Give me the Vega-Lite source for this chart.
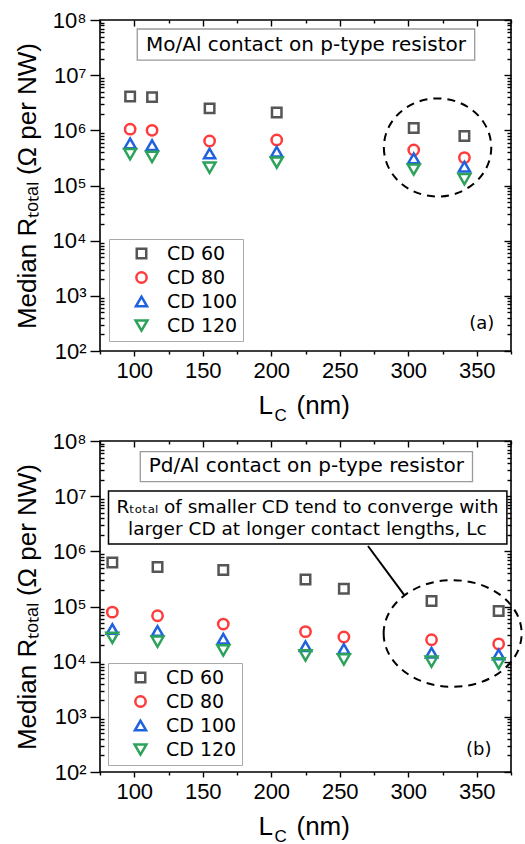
{
  "$schema": "https://vega.github.io/schema/vega-lite/v6.json",
  "padding": {"left": 13, "top": 8, "right": 0, "bottom": 0},
  "spacing": 5,
  "config": {
    "view": {"stroke": "#000000", "strokeWidth": 1.6},
    "axis": {"grid": false, "domain": false, "tickColor": "#000000", "tickWidth": 1.4, "labelFont": "Liberation Sans", "labelFontSize": 22, "labelColor": "#000000", "titleFont": "Liberation Sans", "titleFontSize": 26, "titleFontWeight": "normal", "titleColor": "#000000"},
    "text": {"font": "DejaVu Sans", "color": "#000000"}
  },
  "resolve": {"scale": {"color": "independent", "shape": "independent", "size": "independent"}, "legend": {"color": "independent", "shape": "independent", "size": "independent"}},
  "datasets": {
    "a": [
      {"L": 97, "R": 4100000, "CD": "CD 60"}, {"L": 113, "R": 4000000, "CD": "CD 60"}, {"L": 155, "R": 2500000, "CD": "CD 60"}, {"L": 204, "R": 2100000, "CD": "CD 60"}, {"L": 304, "R": 1100000, "CD": "CD 60"}, {"L": 341, "R": 790000, "CD": "CD 60"},
      {"L": 97, "R": 1050000, "CD": "CD 80"}, {"L": 113, "R": 1000000, "CD": "CD 80"}, {"L": 155, "R": 640000, "CD": "CD 80"}, {"L": 204, "R": 670000, "CD": "CD 80"}, {"L": 304, "R": 440000, "CD": "CD 80"}, {"L": 341, "R": 320000, "CD": "CD 80"},
      {"L": 97, "R": 580000, "CD": "CD 100"}, {"L": 113, "R": 540000, "CD": "CD 100"}, {"L": 155, "R": 380000, "CD": "CD 100"}, {"L": 204, "R": 410000, "CD": "CD 100"}, {"L": 304, "R": 310000, "CD": "CD 100"}, {"L": 341, "R": 220000, "CD": "CD 100"},
      {"L": 97, "R": 370000, "CD": "CD 120"}, {"L": 113, "R": 330000, "CD": "CD 120"}, {"L": 155, "R": 210000, "CD": "CD 120"}, {"L": 204, "R": 260000, "CD": "CD 120"}, {"L": 304, "R": 195000, "CD": "CD 120"}, {"L": 341, "R": 130000, "CD": "CD 120"}
    ],
    "b": [
      {"L": 84, "R": 630000, "CD": "CD 60"}, {"L": 117, "R": 520000, "CD": "CD 60"}, {"L": 165, "R": 460000, "CD": "CD 60"}, {"L": 225, "R": 310000, "CD": "CD 60"}, {"L": 253, "R": 210000, "CD": "CD 60"}, {"L": 317, "R": 126000, "CD": "CD 60"}, {"L": 366, "R": 83000, "CD": "CD 60"},
      {"L": 84, "R": 79000, "CD": "CD 80"}, {"L": 117, "R": 68000, "CD": "CD 80"}, {"L": 165, "R": 48000, "CD": "CD 80"}, {"L": 225, "R": 35000, "CD": "CD 80"}, {"L": 253, "R": 28000, "CD": "CD 80"}, {"L": 317, "R": 25000, "CD": "CD 80"}, {"L": 366, "R": 21000, "CD": "CD 80"},
      {"L": 84, "R": 39000, "CD": "CD 100"}, {"L": 117, "R": 36000, "CD": "CD 100"}, {"L": 165, "R": 26000, "CD": "CD 100"}, {"L": 225, "R": 19000, "CD": "CD 100"}, {"L": 253, "R": 17000, "CD": "CD 100"}, {"L": 317, "R": 14500, "CD": "CD 100"}, {"L": 366, "R": 13500, "CD": "CD 100"},
      {"L": 84, "R": 27000, "CD": "CD 120"}, {"L": 117, "R": 23000, "CD": "CD 120"}, {"L": 165, "R": 16000, "CD": "CD 120"}, {"L": 225, "R": 13000, "CD": "CD 120"}, {"L": 253, "R": 11000, "CD": "CD 120"}, {"L": 317, "R": 10000, "CD": "CD 120"}, {"L": 366, "R": 9300, "CD": "CD 120"}
    ]
  },
  "vconcat": [
    {
      "width": 411,
      "height": 331,
      "resolve": {"axis": {"x": "independent", "y": "independent"}},
      "layer": [
        {
          "data": {"values": [{"x1": 102.2, "x2": 348.5, "y1": 68700000, "y2": 18800000}]},
          "mark": {"type": "rect", "fill": "#ffffff", "stroke": "#9a9a9a", "strokeWidth": 1.3},
          "encoding": {
            "x": {"field": "x1", "type": "quantitative", "scale": {"domain": [75, 375], "nice": false, "zero": false}, "axis": {"orient": "bottom", "values": [75, 125, 175, 225, 275, 325, 375], "labels": false, "tickSize": 3, "title": "C", "titleFontSize": 17, "titleX": 174, "titleY": 69, "titleAlign": "left", "titleBaseline": "alphabetic"}},
            "x2": {"field": "x2"},
            "y": {"field": "y1", "type": "quantitative", "scale": {"type": "log", "domain": [100, 100000000], "nice": false}, "axis": {"orient": "left", "values": [200,300,400,500,600,700,800,900,2000,3000,4000,5000,6000,7000,8000,9000,20000,30000,40000,50000,60000,70000,80000,90000,200000,300000,400000,500000,600000,700000,800000,900000,2000000,3000000,4000000,5000000,6000000,7000000,8000000,9000000,20000000,30000000,40000000,50000000,60000000,70000000,80000000,90000000], "labels": false, "tickSize": -4, "title": null}},
            "y2": {"field": "y2"}
          }
        },
        {
          "data": {"values": [{"x": 225.4, "y": 35200000, "t": "Mo/Al contact on p-type resistor"}]},
          "mark": {"type": "text", "fontSize": 20, "align": "center", "baseline": "middle"},
          "encoding": {
            "x": {"field": "x", "type": "quantitative", "scale": {"domain": [75, 375], "nice": false, "zero": false}, "axis": {"orient": "top", "values": [100, 150, 200, 250, 300, 350], "labels": false, "tickSize": -6, "title": null}},
            "y": {"field": "y", "type": "quantitative", "scale": {"type": "log", "domain": [100, 100000000], "nice": false}, "axis": {"orient": "right", "values": [100, 1000, 10000, 100000, 1000000, 10000000, 100000000], "labels": false, "tickSize": -7, "title": null}},
            "text": {"field": "t"}
          }
        },
        {
          "data": {"values": [{"x": 321.4, "y": 489000}]},
          "mark": {"type": "point", "shape": "M-1,0A1,0.913,0,1,0,1,0A1,0.913,0,1,0,-1,0Z", "size": 11535, "filled": false, "stroke": "#000000", "strokeWidth": 2, "strokeDash": [8, 6], "opacity": 1},
          "encoding": {
            "x": {"field": "x", "type": "quantitative", "scale": {"domain": [75, 375], "nice": false, "zero": false}, "axis": {"orient": "top", "values": [75, 125, 175, 225, 275, 325, 375], "labels": false, "tickSize": -3, "title": null}},
            "y": {"field": "y", "type": "quantitative", "scale": {"type": "log", "domain": [100, 100000000], "nice": false}, "axis": {"orient": "right", "values": [200,300,400,500,600,700,800,900,2000,3000,4000,5000,6000,7000,8000,9000,20000,30000,40000,50000,60000,70000,80000,90000,200000,300000,400000,500000,600000,700000,800000,900000,2000000,3000000,4000000,5000000,6000000,7000000,8000000,9000000,20000000,30000000,40000000,50000000,60000000,70000000,80000000,90000000], "labels": false, "tickSize": -4, "title": null}}
          }
        },
        {
          "data": {"name": "a"},
          "mark": {"type": "point", "filled": false, "strokeWidth": 2.5, "opacity": 1},
          "encoding": {
            "x": {"field": "L", "type": "quantitative", "scale": {"domain": [75, 375], "nice": false, "zero": false}, "axis": {"orient": "bottom", "values": [100, 150, 200, 250, 300, 350], "tickSize": 5, "labelPadding": 4, "title": "L", "titleX": 158, "titleY": 62, "titleAlign": "left", "titleBaseline": "alphabetic"}},
            "y": {"field": "R", "type": "quantitative", "scale": {"type": "log", "domain": [100, 100000000], "nice": false}, "axis": {"orient": "left", "values": [100, 1000, 10000, 100000, 1000000, 10000000, 100000000], "tickSize": 10, "labelPadding": 4, "labelExpr": "datum.value < 500 ? '10²' : datum.value < 5000 ? '10³' : datum.value < 50000 ? '10⁴' : datum.value < 500000 ? '10⁵' : datum.value < 5000000 ? '10⁶' : datum.value < 50000000 ? '10⁷' : '10⁸'", "title": "Median Rₜₒₜₐₗ (Ω per NW)", "titlePadding": 12}},
            "color": {"field": "CD", "type": "nominal", "scale": {"domain": ["CD 60", "CD 80", "CD 100", "CD 120"], "range": ["#555555", "#ff3b3b", "#1f62e0", "#2ca25a"]}, "legend": {"title": null, "orient": "none", "legendX": 9, "legendY": 219, "padding": 5, "strokeColor": "#aaaaaa", "fillColor": "#ffffff", "labelFont": "DejaVu Sans", "labelFontSize": 19, "labelColor": "#000000", "symbolStrokeWidth": 2.5, "rowPadding": 3, "symbolOffset": 18, "labelOffset": 16}},
            "shape": {"field": "CD", "type": "nominal", "scale": {"domain": ["CD 60", "CD 80", "CD 100", "CD 120"], "range": ["square", "circle", "triangle-up", "triangle-down"]}, "legend": {"title": null, "orient": "none", "legendX": 9, "legendY": 219, "padding": 5, "strokeColor": "#aaaaaa", "fillColor": "#ffffff", "labelFont": "DejaVu Sans", "labelFontSize": 19, "labelColor": "#000000", "symbolStrokeWidth": 2.5, "rowPadding": 3, "symbolOffset": 18, "labelOffset": 16}},
            "size": {"field": "CD", "type": "nominal", "scale": {"domain": ["CD 60", "CD 80", "CD 100", "CD 120"], "range": [90, 140, 225, 225]}, "legend": {"title": null, "orient": "none", "legendX": 9, "legendY": 219, "padding": 5, "strokeColor": "#aaaaaa", "fillColor": "#ffffff", "labelFont": "DejaVu Sans", "labelFontSize": 19, "labelColor": "#000000", "symbolStrokeWidth": 2.5, "rowPadding": 3, "symbolOffset": 18, "labelOffset": 16}}
          }
        },
        {
          "data": {"values": [{"x": 353.7, "y": 310, "t": "(a)"}]},
          "mark": {"type": "text", "fontSize": 18, "align": "center", "baseline": "middle"},
          "encoding": {
            "x": {"field": "x", "type": "quantitative", "scale": {"domain": [75, 375], "nice": false, "zero": false}, "axis": {"orient": "bottom", "ticks": false, "labels": false, "title": "(nm)", "titleX": 196, "titleY": 62, "titleAlign": "left", "titleBaseline": "alphabetic"}},
            "y": {"field": "y", "type": "quantitative", "scale": {"type": "log", "domain": [100, 100000000], "nice": false}, "axis": null},
            "text": {"field": "t"}
          }
        }
      ]
    },
    {
      "width": 411,
      "height": 331,
      "resolve": {"axis": {"x": "independent", "y": "independent"}},
      "layer": [
        {
          "data": {"values": [{"x1": 104.4, "x2": 346.9, "y1": 64000000, "y2": 18300000}]},
          "mark": {"type": "rect", "fill": "#ffffff", "stroke": "#9a9a9a", "strokeWidth": 1.3},
          "encoding": {
            "x": {"field": "x1", "type": "quantitative", "scale": {"domain": [75, 375], "nice": false, "zero": false}, "axis": {"orient": "bottom", "values": [75, 125, 175, 225, 275, 325, 375], "labels": false, "tickSize": 3, "title": "C", "titleFontSize": 17, "titleX": 174, "titleY": 69, "titleAlign": "left", "titleBaseline": "alphabetic"}},
            "x2": {"field": "x2"},
            "y": {"field": "y1", "type": "quantitative", "scale": {"type": "log", "domain": [100, 100000000], "nice": false}, "axis": {"orient": "left", "values": [200,300,400,500,600,700,800,900,2000,3000,4000,5000,6000,7000,8000,9000,20000,30000,40000,50000,60000,70000,80000,90000,200000,300000,400000,500000,600000,700000,800000,900000,2000000,3000000,4000000,5000000,6000000,7000000,8000000,9000000,20000000,30000000,40000000,50000000,60000000,70000000,80000000,90000000], "labels": false, "tickSize": -4, "title": null}},
            "y2": {"field": "y2"}
          }
        },
        {
          "data": {"values": [{"x": 225.6, "y": 35200000, "t": "Pd/Al contact on p-type resistor"}]},
          "mark": {"type": "text", "fontSize": 20, "align": "center", "baseline": "middle"},
          "encoding": {
            "x": {"field": "x", "type": "quantitative", "scale": {"domain": [75, 375], "nice": false, "zero": false}, "axis": {"orient": "top", "values": [100, 150, 200, 250, 300, 350], "labels": false, "tickSize": -6, "title": null}},
            "y": {"field": "y", "type": "quantitative", "scale": {"type": "log", "domain": [100, 100000000], "nice": false}, "axis": {"orient": "right", "values": [100, 1000, 10000, 100000, 1000000, 10000000, 100000000], "labels": false, "tickSize": -7, "title": null}},
            "text": {"field": "t"}
          }
        },
        {
          "data": {"values": [{"x1": 81.2, "x2": 372, "y1": 12400000, "y2": 1360000}]},
          "mark": {"type": "rect", "fill": "#ffffff", "stroke": "#000000", "strokeWidth": 1.5},
          "encoding": {
            "x": {"field": "x1", "type": "quantitative", "scale": {"domain": [75, 375], "nice": false, "zero": false}, "axis": null},
            "x2": {"field": "x2"},
            "y": {"field": "y1", "type": "quantitative", "scale": {"type": "log", "domain": [100, 100000000], "nice": false}, "axis": null},
            "y2": {"field": "y2"}
          }
        },
        {
          "data": {"values": [{"x": 226.4, "y": 6440000, "t": "Rₜₒₜₐₗ of smaller CD tend to converge with\nlarger CD at longer contact lengths, Lᴄ"}]},
          "mark": {"type": "text", "fontSize": 18.5, "align": "center", "baseline": "middle", "lineBreak": "\n", "lineHeight": 22},
          "encoding": {
            "x": {"field": "x", "type": "quantitative", "scale": {"domain": [75, 375], "nice": false, "zero": false}, "axis": null},
            "y": {"field": "y", "type": "quantitative", "scale": {"type": "log", "domain": [100, 100000000], "nice": false}, "axis": null},
            "text": {"field": "t"}
          }
        },
        {
          "data": {"values": [{"x": 270.6, "y": 1250000, "x2": 297, "y2": 162000}]},
          "mark": {"type": "rule", "color": "#000000", "strokeWidth": 2},
          "encoding": {
            "x": {"field": "x", "type": "quantitative", "scale": {"domain": [75, 375], "nice": false, "zero": false}, "axis": null},
            "x2": {"field": "x2"},
            "y": {"field": "y", "type": "quantitative", "scale": {"type": "log", "domain": [100, 100000000], "nice": false}, "axis": null},
            "y2": {"field": "y2"}
          }
        },
        {
          "data": {"values": [{"x": 332.4, "y": 32400}]},
          "mark": {"type": "point", "shape": "M-1,0A1,0.773,0,1,0,1,0A1,0.773,0,1,0,-1,0Z", "size": 19044, "filled": false, "stroke": "#000000", "strokeWidth": 2, "strokeDash": [8, 6], "opacity": 1},
          "encoding": {
            "x": {"field": "x", "type": "quantitative", "scale": {"domain": [75, 375], "nice": false, "zero": false}, "axis": {"orient": "top", "values": [75, 125, 175, 225, 275, 325, 375], "labels": false, "tickSize": -3, "title": null}},
            "y": {"field": "y", "type": "quantitative", "scale": {"type": "log", "domain": [100, 100000000], "nice": false}, "axis": {"orient": "right", "values": [200,300,400,500,600,700,800,900,2000,3000,4000,5000,6000,7000,8000,9000,20000,30000,40000,50000,60000,70000,80000,90000,200000,300000,400000,500000,600000,700000,800000,900000,2000000,3000000,4000000,5000000,6000000,7000000,8000000,9000000,20000000,30000000,40000000,50000000,60000000,70000000,80000000,90000000], "labels": false, "tickSize": -4, "title": null}}
          }
        },
        {
          "data": {"name": "b"},
          "mark": {"type": "point", "filled": false, "strokeWidth": 2.5, "opacity": 1},
          "encoding": {
            "x": {"field": "L", "type": "quantitative", "scale": {"domain": [75, 375], "nice": false, "zero": false}, "axis": {"orient": "bottom", "values": [100, 150, 200, 250, 300, 350], "tickSize": 5, "labelPadding": 4, "title": "L", "titleX": 158, "titleY": 62, "titleAlign": "left", "titleBaseline": "alphabetic"}},
            "y": {"field": "R", "type": "quantitative", "scale": {"type": "log", "domain": [100, 100000000], "nice": false}, "axis": {"orient": "left", "values": [100, 1000, 10000, 100000, 1000000, 10000000, 100000000], "tickSize": 10, "labelPadding": 4, "labelExpr": "datum.value < 500 ? '10²' : datum.value < 5000 ? '10³' : datum.value < 50000 ? '10⁴' : datum.value < 500000 ? '10⁵' : datum.value < 5000000 ? '10⁶' : datum.value < 50000000 ? '10⁷' : '10⁸'", "title": "Median Rₜₒₜₐₗ (Ω per NW)", "titlePadding": 12}},
            "color": {"field": "CD", "type": "nominal", "scale": {"domain": ["CD 60", "CD 80", "CD 100", "CD 120"], "range": ["#555555", "#ff3b3b", "#1f62e0", "#2ca25a"]}, "legend": {"title": null, "orient": "none", "legendX": 8, "legendY": 222, "padding": 5, "strokeColor": "#aaaaaa", "fillColor": "#ffffff", "labelFont": "DejaVu Sans", "labelFontSize": 19, "labelColor": "#000000", "symbolStrokeWidth": 2.5, "rowPadding": 3, "symbolOffset": 18, "labelOffset": 16}},
            "shape": {"field": "CD", "type": "nominal", "scale": {"domain": ["CD 60", "CD 80", "CD 100", "CD 120"], "range": ["square", "circle", "triangle-up", "triangle-down"]}, "legend": {"title": null, "orient": "none", "legendX": 8, "legendY": 222, "padding": 5, "strokeColor": "#aaaaaa", "fillColor": "#ffffff", "labelFont": "DejaVu Sans", "labelFontSize": 19, "labelColor": "#000000", "symbolStrokeWidth": 2.5, "rowPadding": 3, "symbolOffset": 18, "labelOffset": 16}},
            "size": {"field": "CD", "type": "nominal", "scale": {"domain": ["CD 60", "CD 80", "CD 100", "CD 120"], "range": [90, 140, 225, 225]}, "legend": {"title": null, "orient": "none", "legendX": 8, "legendY": 222, "padding": 5, "strokeColor": "#aaaaaa", "fillColor": "#ffffff", "labelFont": "DejaVu Sans", "labelFontSize": 19, "labelColor": "#000000", "symbolStrokeWidth": 2.5, "rowPadding": 3, "symbolOffset": 18, "labelOffset": 16}}
          }
        },
        {
          "data": {"values": [{"x": 351.5, "y": 250, "t": "(b)"}]},
          "mark": {"type": "text", "fontSize": 18, "align": "center", "baseline": "middle"},
          "encoding": {
            "x": {"field": "x", "type": "quantitative", "scale": {"domain": [75, 375], "nice": false, "zero": false}, "axis": {"orient": "bottom", "ticks": false, "labels": false, "title": "(nm)", "titleX": 196, "titleY": 62, "titleAlign": "left", "titleBaseline": "alphabetic"}},
            "y": {"field": "y", "type": "quantitative", "scale": {"type": "log", "domain": [100, 100000000], "nice": false}, "axis": null},
            "text": {"field": "t"}
          }
        }
      ]
    }
  ]
}
